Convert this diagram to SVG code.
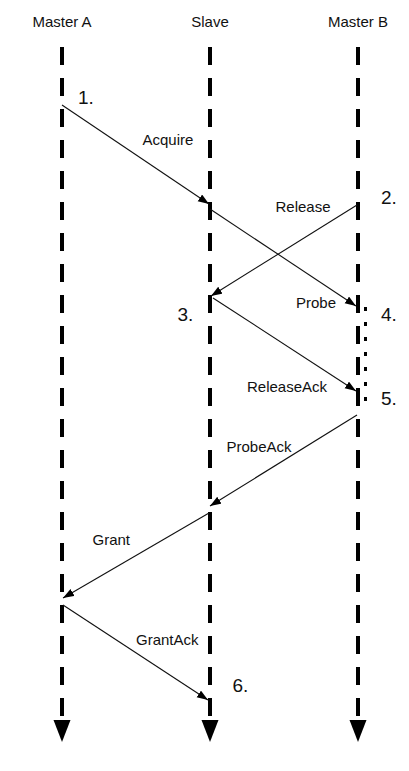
<svg xmlns="http://www.w3.org/2000/svg" width="409" height="771" viewBox="0 0 409 771">
<style>
.title{font-family:"Liberation Sans",Arial,sans-serif;font-size:15px;fill:#111;text-anchor:middle}
.lbl{font-family:"Liberation Sans",Arial,sans-serif;font-size:15px;fill:#111}
.num{font-family:"Liberation Sans",Arial,sans-serif;font-size:19px;fill:#111}
.life{stroke:#000;stroke-width:4;stroke-dasharray:18 13;fill:none}
.head{fill:#000}
.msg{stroke:#111;stroke-width:1.1;fill:none;marker-end:url(#arr)}
.dots{stroke:#000;stroke-width:3;stroke-dasharray:4 11;fill:none}
</style>
<defs>
<marker id="arr" markerUnits="userSpaceOnUse" markerWidth="12" markerHeight="9" refX="11" refY="4" orient="auto">
<path d="M0,0 L11,4 L0,8 z" fill="#000"/>
</marker>
</defs>
<rect width="409" height="771" fill="#fff"/>
<g id="masterA">
<text class="title" x="62" y="27">Master A</text>
<line class="life" x1="62" y1="47" x2="62" y2="716"/>
<polygon class="head" points="53.5,720 70.5,720 62,742"/>
</g>
<g id="slave">
<text class="title" x="210" y="27">Slave</text>
<line class="life" x1="210" y1="47" x2="210" y2="716"/>
<polygon class="head" points="201.5,720 218.5,720 210,742"/>
</g>
<g id="masterB">
<text class="title" x="358" y="27">Master B</text>
<line class="life" x1="358" y1="47" x2="358" y2="716"/>
<polygon class="head" points="349.5,720 366.5,720 358,742"/>
<line class="dots" x1="365.5" y1="307" x2="365.5" y2="404"/>
</g>
<g id="connectors">
<line class="msg" x1="62" y1="105" x2="209" y2="204"/>
<line class="msg" x1="210" y1="209" x2="356" y2="306"/>
<line class="msg" x1="357" y1="205" x2="211" y2="296"/>
<line class="msg" x1="213" y1="298" x2="356" y2="391"/>
<line class="msg" x1="357" y1="415" x2="210" y2="506"/>
<line class="msg" x1="209" y1="513" x2="63" y2="598"/>
<line class="msg" x1="63" y1="605" x2="208" y2="700"/>
</g>
<g id="labels">
<text class="lbl" x="142.5" y="145">Acquire</text>
<text class="lbl" x="275.5" y="211.5">Release</text>
<text class="lbl" x="296" y="308">Probe</text>
<text class="lbl" x="247" y="392">ReleaseAck</text>
<text class="lbl" x="226.5" y="452">ProbeAck</text>
<text class="lbl" x="92.5" y="545">Grant</text>
<text class="lbl" x="136" y="645">GrantAck</text>
</g>
<g id="steps">
<text class="num" x="78" y="104">1.</text>
<text class="num" x="381" y="204">2.</text>
<text class="num" x="177.5" y="321">3.</text>
<text class="num" x="381" y="321">4.</text>
<text class="num" x="381" y="405">5.</text>
<text class="num" x="232.5" y="692">6.</text>
</g>
</svg>
